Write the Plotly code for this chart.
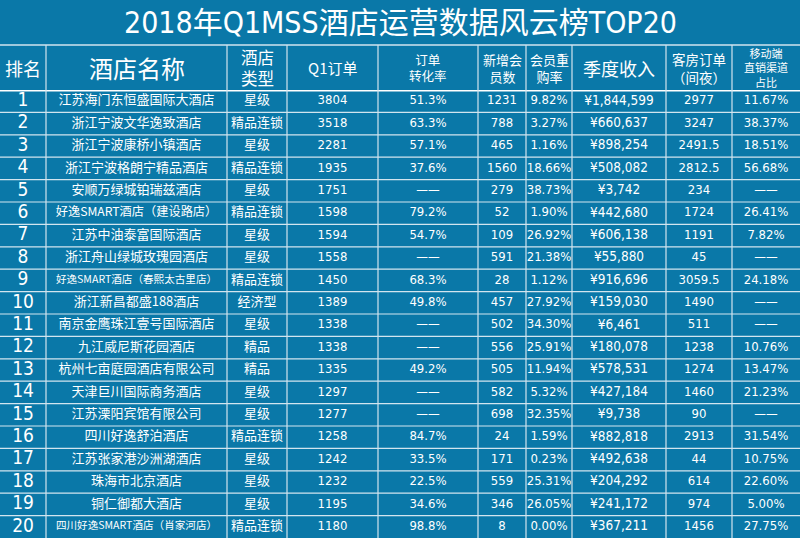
import plotly.graph_objects as go

ranks = [1, 2, 3, 4, 5, 6, 7, 8, 9, 10, 11, 12, 13, 14, 15, 16, 17, 18, 19, 20]
names = ["江苏海门东恒盛国际大酒店", "浙江宁波文华逸致酒店", "浙江宁波康桥小镇酒店", "浙江宁波格朗宁精品酒店",
         "安顺万绿城铂瑞兹酒店", "好逸SMART酒店（建设路店）", "江苏中油泰富国际酒店", "浙江舟山绿城玫瑰园酒店",
         "好逸SMART酒店（春熙太古里店）", "浙江新昌都盛188酒店", "南京金鹰珠江壹号国际酒店", "九江威尼斯花园酒店",
         "杭州七亩庭园酒店有限公司", "天津巨川国际商务酒店", "江苏溧阳宾馆有限公司", "四川好逸舒泊酒店",
         "江苏张家港沙洲湖酒店", "珠海市北京酒店", "铜仁御都大酒店", "四川好逸SMART酒店（肖家河店）"]
types = ["星级", "精品连锁", "星级", "精品连锁", "星级", "精品连锁", "星级", "星级", "精品连锁", "经济型",
         "星级", "精品", "精品", "星级", "星级", "精品连锁", "星级", "星级", "星级", "精品连锁"]
q1_orders = [3804, 3518, 2281, 1935, 1751, 1598, 1594, 1558, 1450, 1389, 1338, 1338, 1335, 1297, 1277, 1258,
             1242, 1232, 1195, 1180]
conversion = [51.3, 63.3, 57.1, 37.6, None, 79.2, 54.7, None, 68.3, 49.8, None, None, 49.2, None, None, 84.7,
              33.5, 22.5, 34.6, 98.8]
new_members = [1231, 788, 465, 1560, 279, 52, 109, 591, 28, 457, 502, 556, 505, 582, 698, 24, 171, 559, 346, 8]
repurchase = [9.82, 3.27, 1.16, 18.66, 38.73, 1.90, 26.92, 21.38, 1.12, 27.92, 34.30, 25.91, 11.94, 5.32, 32.35,
              1.59, 0.23, 25.31, 26.05, 0.00]
revenue = [1844599, 660637, 898254, 508082, 3742, 442680, 606138, 55880, 916696, 159030, 6461, 180078, 578531,
           427184, 9738, 882818, 492638, 204292, 241172, 367211]
room_nights = [2977, 3247, 2491.5, 2812.5, 234, 1724, 1191, 45, 3059.5, 1490, 511, 1238, 1274, 1460, 90, 2913,
               44, 614, 974, 1456]
mobile_share = [11.67, 38.37, 18.51, 56.68, None, 26.41, 7.82, None, 24.18, None, None, 10.76, 13.47, 21.23, None,
                31.54, 10.75, 22.60, 5.00, 27.75]
headers = ["排名", "酒店名称", "酒店<br>类型", "Q1订单", "订单<br>转化率", "新增会<br>员数", "会员重<br>购率",
           "季度收入", "客房订单<br>（间夜）", "移动端<br>直销渠道<br>占比"]
title_text = "2018年Q1MSS酒店运营数据风云榜TOP20"

DASH = "——"
def pct1(v):
    return DASH if v is None else f"{v:.1f}%"
def pct2(v):
    return DASH if v is None else f"{v:.2f}%"

columns = [
    [str(r) for r in ranks],
    names,
    types,
    [str(v) for v in q1_orders],
    [pct1(v) for v in conversion],
    [str(v) for v in new_members],
    [pct2(v) for v in repurchase],
    [f"¥{v:,}" for v in revenue],
    [f"{v:g}" for v in room_nights],
    [pct2(v) for v in mobile_share],
]

# ---- style / layout ----
W, H = 800, 538
TITLE_H, HEAD_H = 45, 45
BODY_H = H - TITLE_H - HEAD_H
col_widths = [46, 181, 60, 91, 100, 48, 46, 94, 66, 68]
edges = [0]
for w in col_widths:
    edges.append(edges[-1] + w)
centers = [(edges[i] + edges[i + 1]) / 2 for i in range(len(col_widths))]

BG = "#0a78a8"
LINE = "#d2e5ef"
NUM = "DejaVu Sans Condensed, Liberation Sans, Noto Sans CJK SC, sans-serif"
CJK = "Noto Sans CJK SC, sans-serif"

def em_len(s):
    return sum(1.0 if ord(c) > 0x2E80 else 0.62 for c in s)

name_sizes = [min(13, 160 / em_len(n)) for n in names]

col_fonts = [NUM, CJK, CJK] + [NUM] * 7
col_sizes = [19, name_sizes, 13, 13, 13, 13, 13, 13.5, 13, 13]

fig = go.Figure()
for i, vals in enumerate(columns):
    fig.add_trace(go.Scatter(
        x=[centers[i]] * len(ranks), y=ranks, text=vals, mode="text",
        textposition="middle center", cliponaxis=False, hoverinfo="skip", showlegend=False,
        textfont=dict(color="white", family=col_fonts[i], size=col_sizes[i]),
    ))

# header texts
head_sizes = [18, 24, 16.5, 15, 12.5, 13, 13, 18, 13.5, 11]
head_y = 1 - (TITLE_H + HEAD_H / 2) / H
for i, h in enumerate(headers):
    fig.add_annotation(text=h, x=centers[i], xref="x", y=head_y, yref="paper", showarrow=False,
                       xanchor="center", yanchor="middle",
                       font=dict(color="white", family=CJK, size=head_sizes[i]))

# title
fig.add_annotation(text=title_text, x=0.5, y=1 - (TITLE_H / 2) / H, xref="paper", yref="paper",
                   showarrow=False, xanchor="center", yanchor="middle",
                   font=dict(color="white", size=30, family=NUM))

# grid lines
table_top = 1 - TITLE_H / H
fig.add_shape(type="line", xref="paper", yref="paper", x0=0, x1=1, y0=table_top, y1=table_top,
              line=dict(color=LINE, width=1.5))
for r in ranks[:-1]:
    fig.add_shape(type="line", xref="paper", yref="y", x0=0, x1=1, y0=r + 0.5, y1=r + 0.5,
                  line=dict(color=LINE, width=1.2))
fig.add_shape(type="line", xref="paper", yref="y", x0=0, x1=1, y0=0.5, y1=0.5,
              line=dict(color="white", width=3))
for e in edges[1:-1]:
    fig.add_shape(type="line", xref="x", yref="paper", x0=e, x1=e, y0=0, y1=table_top,
                  line=dict(color=LINE, width=1.2))

fig.update_layout(
    width=W, height=H, margin=dict(l=0, r=0, t=0, b=0),
    paper_bgcolor=BG, plot_bgcolor=BG,
    xaxis=dict(range=[0, W], domain=[0, 1], visible=False, fixedrange=True),
    yaxis=dict(range=[ranks[-1] + 0.5, ranks[0] - 0.5], domain=[0, BODY_H / H], visible=False,
               fixedrange=True),
)
fig.write_html("out.html", config={"displayModeBar": False},
               post_script="document.body.style.margin='0';document.body.style.overflow='hidden';")
